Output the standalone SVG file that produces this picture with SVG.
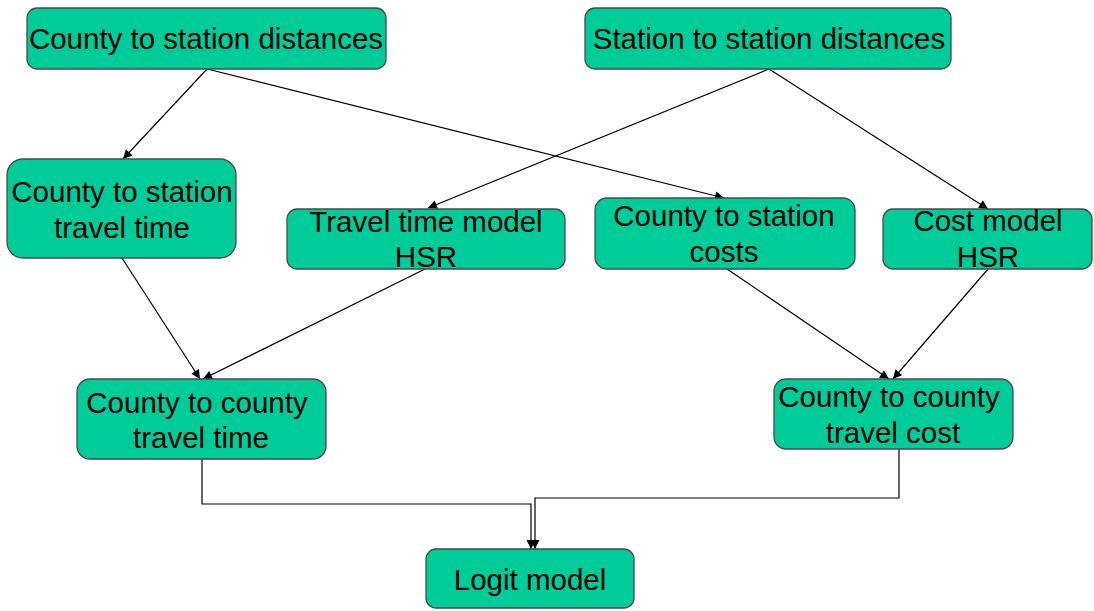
<svg xmlns="http://www.w3.org/2000/svg" width="1094" height="611" viewBox="0 0 1094 611">
<defs>
<style>
.box{fill:#00CC99;stroke:#4a4a4a;stroke-width:1.3}
.t{font-family:"Liberation Sans",Arial,sans-serif;font-size:29.5px;fill:#000;text-anchor:middle}
.c{fill:none;stroke:#000;stroke-width:1.2}
</style>
<marker id="ah" viewBox="0 0 10 10" refX="10" refY="5" markerWidth="10" markerHeight="9" markerUnits="userSpaceOnUse" orient="auto">
<path d="M0,0 L10,5 L0,10 Z" fill="#000"/>
</marker>
</defs>
<rect width="1094" height="611" fill="#fff"/>
<g id="connectors">
<line class="c" x1="207" y1="69" x2="123" y2="159" marker-end="url(#ah)"/>
<line class="c" x1="207" y1="69" x2="724" y2="198" marker-end="url(#ah)"/>
<line class="c" x1="769" y1="69" x2="428" y2="208" marker-end="url(#ah)"/>
<line class="c" x1="769" y1="69" x2="988" y2="209" marker-end="url(#ah)"/>
<line class="c" x1="122" y1="258" x2="200" y2="379" marker-end="url(#ah)"/>
<line class="c" x1="427" y1="268" x2="203" y2="379" marker-end="url(#ah)"/>
<line class="c" x1="727" y1="269" x2="889" y2="379" marker-end="url(#ah)"/>
<line class="c" x1="988" y1="269" x2="893" y2="379" marker-end="url(#ah)"/>
<polyline class="c" points="202,459 202,504 531,504 531,549" marker-end="url(#ah)"/>
<polyline class="c" points="899,449 899,498 535,498 535,549" marker-end="url(#ah)"/>
</g>
<g id="n1">
<rect class="box" x="27" y="8" width="359" height="61" rx="10"/>
<text class="t" x="206" y="49">County to station distances</text>
</g>
<g id="n2">
<rect class="box" x="585" y="8" width="366" height="61" rx="10"/>
<text class="t" x="769" y="49">Station to station distances</text>
</g>
<g id="n3">
<rect class="box" x="7" y="159" width="229" height="99" rx="16"/>
<text class="t" x="122" y="202">County to station</text>
<text class="t" x="122" y="238">travel time</text>
</g>
<g id="n4">
<rect class="box" x="287" y="209" width="278" height="60" rx="10"/>
<text class="t" x="426" y="232">Travel time model</text>
<text class="t" x="426" y="267">HSR</text>
</g>
<g id="n5">
<rect class="box" x="595" y="198" width="260" height="71" rx="12"/>
<text class="t" x="724" y="226">County to station</text>
<text class="t" x="724" y="262">costs</text>
</g>
<g id="n6">
<rect class="box" x="883" y="209" width="209" height="60" rx="10"/>
<text class="t" x="988" y="231">Cost model</text>
<text class="t" x="988" y="267">HSR</text>
</g>
<g id="n7">
<rect class="box" x="77" y="379" width="249" height="80" rx="13"/>
<text class="t" x="197" y="413">County to county</text>
<text class="t" x="201" y="448">travel time</text>
</g>
<g id="n8">
<rect class="box" x="774" y="379" width="239" height="70" rx="12"/>
<text class="t" x="889" y="407">County to county</text>
<text class="t" x="893" y="443">travel cost</text>
</g>
<g id="n9">
<rect class="box" x="426" y="549" width="208" height="59" rx="10"/>
<text class="t" x="530" y="590">Logit model</text>
</g>
</svg>
